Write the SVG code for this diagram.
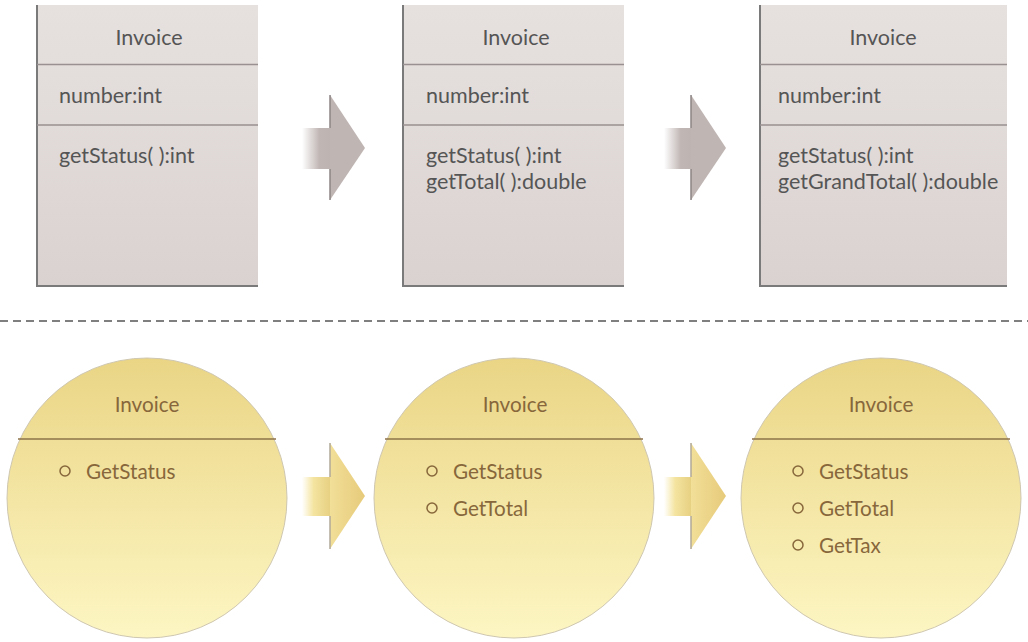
<svg xmlns="http://www.w3.org/2000/svg" width="1028" height="642" viewBox="0 0 1028 642">
<defs>
<linearGradient id="boxg" x1="0" y1="0" x2="0" y2="1"><stop offset="0" stop-color="#e6e1df"/><stop offset="1" stop-color="#dad2d0"/></linearGradient>
<linearGradient id="circg" x1="0" y1="0" x2="0" y2="1"><stop offset="0" stop-color="#ead585"/><stop offset="1" stop-color="#fdf6c3"/></linearGradient>
<linearGradient id="gshaft" x1="0" y1="0" x2="1" y2="0"><stop offset="0" stop-color="#c0b6b4" stop-opacity="0"/><stop offset="0.6" stop-color="#c0b6b4"/><stop offset="1" stop-color="#bdb3b1"/></linearGradient>
<linearGradient id="yshaft" x1="0" y1="0" x2="1" y2="0"><stop offset="0" stop-color="#f4e4a0" stop-opacity="0"/><stop offset="0.4" stop-color="#f4e4a0"/><stop offset="1" stop-color="#e6cf80"/></linearGradient>
<linearGradient id="yhead" x1="0" y1="0" x2="1" y2="0"><stop offset="0" stop-color="#f2df98"/><stop offset="1" stop-color="#e6ca7a"/></linearGradient>
</defs>
<style>
.box{fill:url(#boxg)}
.edge{stroke:#7a7a7a;stroke-width:2;fill:none}
.div{stroke:#999191;stroke-width:1.5}
.t{font-family:Lato,"Open Sans",sans-serif;font-size:21.5px;fill:#555}
.c{fill:url(#circg);stroke:#cfc7b0;stroke-width:1}
.cdiv{stroke:#8e7248;stroke-width:1.5}
.ct{font-family:Lato,"Open Sans",sans-serif;font-size:20.7px;fill:#87673b}
.bul{fill:none;stroke:#87673b;stroke-width:1.5}
.mid{text-anchor:middle}
</style>

<g id="box1">
<rect class="box" x="37" y="5" width="221" height="281"/>
<path class="edge" d="M37,5 V286 H258"/>
<line class="div" x1="37" y1="64.5" x2="258" y2="64.5"/>
<line class="div" x1="37" y1="125" x2="258" y2="125"/>
<text class="t mid" x="149" y="45">Invoice</text>
<text class="t" x="59" y="103">number:int</text>
<text class="t" x="59" y="163">getStatus( ):int</text>
</g>

<g id="box2">
<rect class="box" x="403" y="5" width="221" height="281"/>
<path class="edge" d="M403,5 V286 H624"/>
<line class="div" x1="403" y1="64.5" x2="624" y2="64.5"/>
<line class="div" x1="403" y1="125" x2="624" y2="125"/>
<text class="t mid" x="516" y="45">Invoice</text>
<text class="t" x="426" y="103">number:int</text>
<text class="t" x="426" y="163">getStatus( ):int</text>
<text class="t" x="426" y="189">getTotal( ):double</text>
</g>

<g id="box3">
<rect class="box" x="760" y="5" width="247" height="281"/>
<path class="edge" d="M760,5 V286 H1007"/>
<line class="div" x1="760" y1="64.5" x2="1007" y2="64.5"/>
<line class="div" x1="760" y1="125" x2="1007" y2="125"/>
<text class="t mid" x="883" y="45">Invoice</text>
<text class="t" x="778" y="103">number:int</text>
<text class="t" x="778" y="163">getStatus( ):int</text>
<text class="t" x="778" y="189">getGrandTotal( ):double</text>
</g>

<line x1="0" y1="321" x2="1028" y2="321" stroke="#555" stroke-width="1.5" stroke-dasharray="8,5"/>

<g id="circle1">
<circle class="c" cx="147" cy="498" r="140"/>
<line class="cdiv" x1="18" y1="439" x2="276" y2="439"/>
<text class="ct mid" x="147" y="412">Invoice</text>
<circle class="bul" cx="65" cy="471" r="5"/>
<text class="ct" x="86" y="479">GetStatus</text>
</g>

<g id="circle2">
<circle class="c" cx="514" cy="498" r="140"/>
<line class="cdiv" x1="385" y1="439" x2="643" y2="439"/>
<text class="ct mid" x="515" y="412">Invoice</text>
<circle class="bul" cx="432" cy="471" r="5"/>
<text class="ct" x="453" y="479">GetStatus</text>
<circle class="bul" cx="432" cy="508" r="5"/>
<text class="ct" x="453" y="516">GetTotal</text>
</g>

<g id="circle3">
<circle class="c" cx="881" cy="498" r="140"/>
<line class="cdiv" x1="752" y1="439" x2="1010" y2="439"/>
<text class="ct mid" x="881" y="412">Invoice</text>
<circle class="bul" cx="798" cy="471" r="5"/>
<text class="ct" x="819" y="479">GetStatus</text>
<circle class="bul" cx="798" cy="508" r="5"/>
<text class="ct" x="819" y="516">GetTotal</text>
<circle class="bul" cx="798" cy="545" r="5"/>
<text class="ct" x="819" y="553">GetTax</text>
</g>

<g id="connectors">
<rect x="302" y="128" width="29" height="41" fill="url(#gshaft)"/>
<polygon points="330,95 365,148 330,200" fill="#bfb5b3"/>
<line x1="330" y1="95" x2="330" y2="128" stroke="#8c8484" stroke-width="1.5"/>
<line x1="330" y1="169" x2="330" y2="200" stroke="#8c8484" stroke-width="1.5"/>
<rect x="664" y="128" width="28" height="41" fill="url(#gshaft)"/>
<polygon points="691,95 726,148 691,200" fill="#bfb5b3"/>
<line x1="691" y1="95" x2="691" y2="128" stroke="#8c8484" stroke-width="1.5"/>
<line x1="691" y1="169" x2="691" y2="200" stroke="#8c8484" stroke-width="1.5"/>
<rect x="302" y="477" width="29" height="39" fill="url(#yshaft)"/>
<polygon points="330,443 365,496 330,549" fill="url(#yhead)"/>
<line x1="330" y1="443" x2="330" y2="477" stroke="#b0a898" stroke-width="1.5"/>
<line x1="330" y1="516" x2="330" y2="549" stroke="#b0a898" stroke-width="1.5"/>
<rect x="664" y="477" width="28" height="39" fill="url(#yshaft)"/>
<polygon points="691,443 726,496 691,549" fill="url(#yhead)"/>
<line x1="691" y1="443" x2="691" y2="477" stroke="#b0a898" stroke-width="1.5"/>
<line x1="691" y1="516" x2="691" y2="549" stroke="#b0a898" stroke-width="1.5"/>
</g>
</svg>
